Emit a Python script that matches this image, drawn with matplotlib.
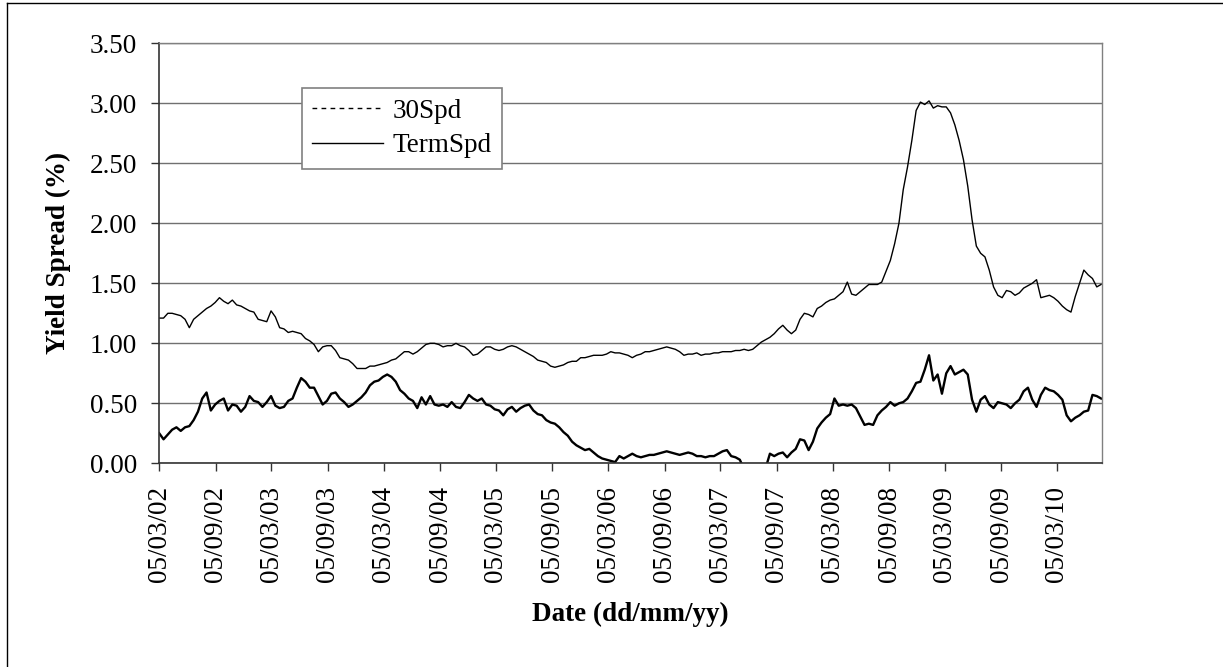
import pandas as pd
import matplotlib.pyplot as plt
import matplotlib.dates as mdates
from matplotlib.lines import Line2D
from matplotlib.ticker import FormatStrFormatter

plt.rcParams["font.family"] = ["Liberation Serif", "DejaVu Serif"]

# -------------------------
# DATA (one value every 14 days from 05/03/02)
# -------------------------
start_date = "2002-03-05"

spd30 = [
    1.21, 1.21, 1.25, 1.25, 1.24, 1.23, 1.20, 1.13, 1.20, 1.23,
    1.26, 1.29, 1.31, 1.34, 1.38, 1.35, 1.33, 1.36, 1.32, 1.31,
    1.29, 1.27, 1.26, 1.20, 1.19, 1.18, 1.27, 1.22, 1.13, 1.12,
    1.09, 1.10, 1.09, 1.08, 1.04, 1.02, 0.99, 0.93, 0.97, 0.98,
    0.98, 0.94, 0.88, 0.87, 0.86, 0.83, 0.79, 0.79, 0.79, 0.81,
    0.81, 0.82, 0.83, 0.84, 0.86, 0.87, 0.90, 0.93, 0.93, 0.91,
    0.93, 0.96, 0.99, 1.00, 1.00, 0.99, 0.97, 0.98, 0.98, 1.00,
    0.98, 0.97, 0.94, 0.90, 0.91, 0.94, 0.97, 0.97, 0.95, 0.94,
    0.95, 0.97, 0.98, 0.97, 0.95, 0.93, 0.91, 0.89, 0.86, 0.85,
    0.84, 0.81, 0.80, 0.81, 0.82, 0.84, 0.85, 0.85, 0.88, 0.88,
    0.89, 0.90, 0.90, 0.90, 0.91, 0.93, 0.92, 0.92, 0.91, 0.90,
    0.88, 0.90, 0.91, 0.93, 0.93, 0.94, 0.95, 0.96, 0.97, 0.96,
    0.95, 0.93, 0.90, 0.91, 0.91, 0.92, 0.90, 0.91, 0.91, 0.92,
    0.92, 0.93, 0.93, 0.93, 0.94, 0.94, 0.95, 0.94, 0.95, 0.98,
    1.01, 1.03, 1.05, 1.08, 1.12, 1.15, 1.11, 1.08, 1.11, 1.20,
    1.25, 1.24, 1.22, 1.29, 1.31, 1.34, 1.36, 1.37, 1.40, 1.43,
    1.51, 1.41, 1.40, 1.43, 1.46, 1.49, 1.49, 1.49, 1.51, 1.60,
    1.69, 1.83, 2.00, 2.28, 2.47, 2.69, 2.94, 3.01, 2.99, 3.02,
    2.96, 2.98, 2.97, 2.97, 2.92, 2.82, 2.69, 2.53, 2.31, 2.03,
    1.81, 1.75, 1.72, 1.61, 1.47, 1.40, 1.38, 1.44, 1.43, 1.40,
    1.42, 1.46, 1.48, 1.50, 1.53, 1.38, 1.39, 1.40, 1.38, 1.35,
    1.31, 1.28, 1.26, 1.39, 1.50, 1.61, 1.57, 1.54, 1.47, 1.49,
]

term_spd = [
    0.25, 0.20, 0.24, 0.28, 0.30, 0.27, 0.30, 0.31, 0.36, 0.43,
    0.54, 0.59, 0.44, 0.49, 0.52, 0.54, 0.44, 0.49, 0.48, 0.43,
    0.47, 0.56, 0.52, 0.51, 0.47, 0.51, 0.56, 0.48, 0.46, 0.47,
    0.52, 0.54, 0.63, 0.71, 0.68, 0.63, 0.63, 0.56, 0.49, 0.52,
    0.58, 0.59, 0.54, 0.51, 0.47, 0.49, 0.52, 0.55, 0.59, 0.65,
    0.68, 0.69, 0.72, 0.74, 0.72, 0.68, 0.61, 0.58, 0.54, 0.52,
    0.46, 0.55, 0.49, 0.56, 0.49, 0.48, 0.49, 0.47, 0.51, 0.47,
    0.46, 0.51, 0.57, 0.54, 0.52, 0.54, 0.49, 0.48, 0.45, 0.44,
    0.40, 0.45, 0.47, 0.43, 0.46, 0.48, 0.49, 0.44, 0.41, 0.40,
    0.36, 0.34, 0.33, 0.30, 0.26, 0.23, 0.18, 0.15, 0.13, 0.11,
    0.12, 0.09, 0.06, 0.04, 0.03, 0.02, 0.01, 0.06, 0.04, 0.06,
    0.08, 0.06, 0.05, 0.06, 0.07, 0.07, 0.08, 0.09, 0.10, 0.09,
    0.08, 0.07, 0.08, 0.09, 0.08, 0.06, 0.06, 0.05, 0.06, 0.06,
    0.08, 0.10, 0.11, 0.06, 0.05, 0.03, -0.05, -0.10, -0.12, -0.10,
    -0.08, -0.04, 0.08, 0.06, 0.08, 0.09, 0.05, 0.09, 0.12, 0.20,
    0.19, 0.11, 0.18, 0.29, 0.34, 0.38, 0.41, 0.54, 0.48, 0.49,
    0.48, 0.49, 0.46, 0.39, 0.32, 0.33, 0.32, 0.40, 0.44, 0.47,
    0.51, 0.48, 0.50, 0.51, 0.54, 0.60, 0.67, 0.68, 0.78, 0.90,
    0.69, 0.74, 0.58, 0.75, 0.81, 0.74, 0.76, 0.78, 0.74, 0.53,
    0.43, 0.53, 0.56, 0.49, 0.46, 0.51, 0.50, 0.49, 0.46, 0.50,
    0.53, 0.60, 0.63, 0.53, 0.47, 0.57, 0.63, 0.61, 0.60, 0.57,
    0.53, 0.40, 0.35, 0.38, 0.40, 0.43, 0.44, 0.57, 0.56, 0.54,
]

# axis labels every six months: 05/03 and 05/09 of each year
tick_dates = pd.date_range("2002-03-01", "2010-03-01", freq="6MS") + pd.Timedelta(days=4)
y_ticks = [0.0, 0.5, 1.0, 1.5, 2.0, 2.5, 3.0, 3.5]

dates = pd.date_range(start_date, periods=len(spd30), freq="14D")

# -------------------------
# FIGURE
# -------------------------
fig = plt.figure(figsize=(12.23, 6.67), dpi=100)
ax = fig.add_axes([0.1302, 0.3054, 0.7706, 0.6297])

ax.plot(dates, spd30, color="black", linewidth=1.0)
ax.plot(dates, term_spd, color="black", linewidth=1.7)

ax.set_ylim(0, 3.5)
ax.set_xlim(pd.Timestamp(start_date), pd.Timestamp(start_date) + pd.Timedelta(days=3068))

ax.set_yticks(y_ticks)
ax.yaxis.set_major_formatter(FormatStrFormatter("%.2f"))
ax.set_xticks(tick_dates)
ax.xaxis.set_major_formatter(mdates.DateFormatter("%d/%m/%y"))

ax.yaxis.grid(True, color="#707070", linewidth=1.0)
ax.set_axisbelow(True)

for side in ["left", "bottom"]:
    ax.spines[side].set_color("#333333")
    ax.spines[side].set_linewidth(1.2)
for side in ["top", "right"]:
    ax.spines[side].set_color("#808080")
    ax.spines[side].set_linewidth(1.0)

ax.tick_params(axis="both", direction="out", length=5.5, width=1.0,
               color="#333333", labelsize=19.5)
ax.tick_params(axis="y", pad=10.5)
ax.tick_params(axis="x", pad=11, labelrotation=90)

ax.set_ylabel("Yield Spread (%)", fontsize=19.5, fontweight="bold", va="center")
ax.yaxis.set_label_coords(-0.107, 0.5)
ax.set_xlabel("Date (dd/mm/yy)", fontsize=19.5, fontweight="bold", va="center")
ax.xaxis.set_label_coords(0.5, -0.36)

# -------------------------
# LEGEND
# -------------------------
handles = [
    Line2D([], [], color="black", linewidth=1.0, dashes=(3.4, 3.1)),
    Line2D([], [], color="black", linewidth=1.0),
]
leg = ax.legend(handles, ["30Spd", "TermSpd"], loc="upper left",
                bbox_to_anchor=(0.151, 0.8936), borderaxespad=0,
                fontsize=19.5, fancybox=False, framealpha=1,
                edgecolor="#808080", handlelength=2.6, handletextpad=0.35,
                borderpad=0.4, labelspacing=0.35)
leg.get_frame().set_linewidth(1.2)

# -------------------------
# OUTER FRAME (top and left edges)
# -------------------------
fig.add_artist(Line2D([0.0057, 1.0], [0.995, 0.995], color="black",
                      linewidth=1.0, transform=fig.transFigure))
fig.add_artist(Line2D([0.0057, 0.0057], [0.0, 0.995], color="black",
                      linewidth=1.0, transform=fig.transFigure))

fig.savefig("out.png", dpi=100)
